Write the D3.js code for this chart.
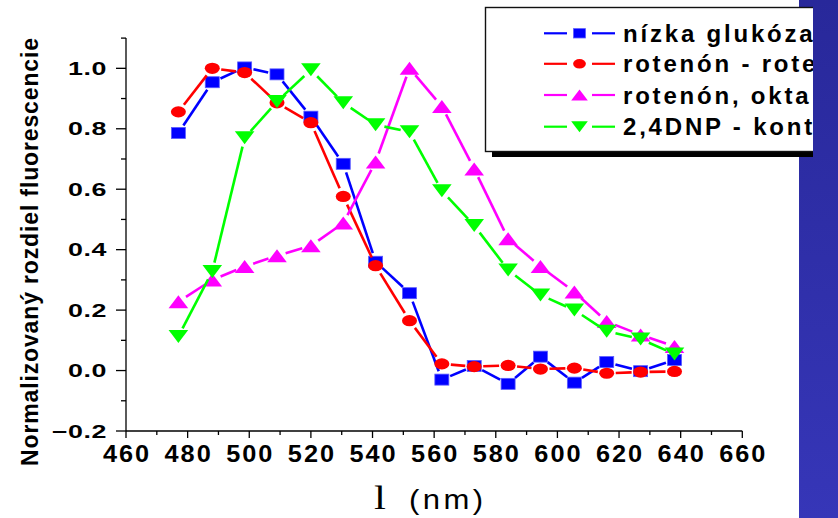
<!DOCTYPE html>
<html>
<head>
<meta charset="utf-8">
<script src="https://cdn.jsdelivr.net/npm/d3@7"></script>
<style>
  body { margin: 0; background: #fff; }
  svg { display: block; }
</style>
</head>
<body>
<div id="chart-area"></div>
<script>
// wavelengths (nm)
const wavelengths = [477, 488, 498.5, 509, 520, 530.5, 541, 552, 562.5, 573, 584, 594.5, 605.5, 616, 627, 638];

// normalized fluorescence difference per series
const nizkaGlukoza = [0.786, 0.954, 1.003, 0.98, 0.84, 0.684, 0.36, 0.256, -0.03, 0.015, -0.044, 0.046, -0.04, 0.028, -0.002, 0.035];
const rotenonRote = [0.856, 1.0, 0.986, 0.886, 0.82, 0.576, 0.347, 0.165, 0.022, 0.013, 0.017, 0.005, 0.008, -0.009, -0.005, -0.003];
const rotenonOkta = [0.228, 0.30, 0.344, 0.38, 0.413, 0.488, 0.69, 1.0, 0.874, 0.667, 0.436, 0.344, 0.26, 0.162, 0.118, 0.08];
const dnpKont = [0.113, 0.328, 0.77, 0.89, 0.995, 0.886, 0.813, 0.79, 0.595, 0.48, 0.333, 0.25, 0.2, 0.13, 0.104, 0.055];

const seriesNames = ["nízka glukóza", "rotenón - rote", "rotenón, okta", "2,4DNP - kont"];
const xTicks = [460, 480, 500, 520, 540, 560, 580, 600, 620, 640, 660];
const yTicks = [-0.2, 0.0, 0.2, 0.4, 0.6, 0.8, 1.0];

const series = [
    {name: seriesNames[0], values: nizkaGlukoza, color: "#0000ff", shape: "square"},
    {name: seriesNames[1], values: rotenonRote, color: "#ff0000", shape: "circle"},
    {name: seriesNames[2], values: rotenonOkta, color: "#ff00ff", shape: "up"},
    {name: seriesNames[3], values: dnpKont, color: "#00ff00", shape: "down"}
];

const width = 838;
const height = 518;

const svg = d3.select("#chart-area")
    .append("svg")
    .attr("width", width)
    .attr("height", height)
    .style("font-family", "'Liberation Sans', Arial, sans-serif");

const x = d3.scaleLinear().domain([460, 660]).range([126, 742.3]);
const y = d3.scaleLinear().domain([-0.2, 1.1]).range([431, 38.1]);

// blue strip on the right
const grad = svg.append("defs").append("linearGradient")
    .attr("id", "strip").attr("x1", 0).attr("y1", 0).attr("x2", 0).attr("y2", 1);
grad.append("stop").attr("offset", "0%").attr("stop-color", "#28289a");
grad.append("stop").attr("offset", "100%").attr("stop-color", "#3636b8");
svg.append("rect")
    .attr("x", 799).attr("y", 0).attr("width", 39).attr("height", height)
    .attr("fill", "url(#strip)");

// axes
const yAxis = svg.append("g").attr("transform", "translate(" + x(460) + ",0)");
yAxis.append("line").attr("y1", y(1.1)).attr("y2", y(-0.2)).attr("stroke", "#000").attr("stroke-width", 1.3);
yAxis.selectAll(".ymajor").data(yTicks).enter().append("line")
    .attr("x1", -10).attr("x2", 0)
    .attr("y1", d => y(d)).attr("y2", d => y(d))
    .attr("stroke", "#000").attr("stroke-width", 1.3);
yAxis.selectAll(".yminor").data(d3.range(-1, 12, 2).map(d => d / 10)).enter().append("line")
    .attr("x1", -5).attr("x2", 0)
    .attr("y1", d => y(d)).attr("y2", d => y(d))
    .attr("stroke", "#000").attr("stroke-width", 1.3);
// tick labels are stretched sideways in the original
svg.selectAll(".ylabel").data(yTicks).enter().append("text")
    .attr("transform", d => "translate(107," + (y(d) + 6.7) + ") scale(1.45,1)")
    .attr("text-anchor", "end")
    .style("font-size", "18.5px")
    .style("font-weight", "bold")
    .style("letter-spacing", "0.4px")
    .text(d => d3.format(".1f")(d));

const xAxis = svg.append("g").attr("transform", "translate(0," + y(-0.2) + ")");
xAxis.append("line").attr("x1", x(460)).attr("x2", x(660)).attr("stroke", "#000").attr("stroke-width", 1.3);
xAxis.selectAll(".xmajor").data(xTicks).enter().append("line")
    .attr("x1", d => x(d)).attr("x2", d => x(d))
    .attr("y1", 0).attr("y2", 7)
    .attr("stroke", "#000").attr("stroke-width", 1.3);
xAxis.selectAll(".xminor").data(d3.range(470, 660, 20)).enter().append("line")
    .attr("x1", d => x(d)).attr("x2", d => x(d))
    .attr("y1", 0).attr("y2", 4)
    .attr("stroke", "#000").attr("stroke-width", 1.3);
svg.selectAll(".xlabel").data(xTicks).enter().append("text")
    .attr("transform", d => "translate(" + (x(d) + 1) + ",461.7) scale(1.1,1)")
    .attr("text-anchor", "middle")
    .style("font-size", "23px")
    .style("font-weight", "bold")
    .style("letter-spacing", "1.8px")
    .text(d => d);

// axis titles
svg.append("text")
    .attr("transform", "translate(37.5,252) rotate(-90)")
    .attr("text-anchor", "middle")
    .attr("textLength", 428)
    .attr("lengthAdjust", "spacing")
    .style("font-size", "23px")
    .style("font-weight", "bold")
    .text("Normalizovaný rozdiel fluorescencie");

svg.append("text")
    .attr("transform", "translate(374,509) scale(1.3,1)")
    .style("font-family", "'Liberation Serif', 'Times New Roman', serif")
    .style("font-size", "33px")
    .text("l");
svg.append("text")
    .attr("transform", "translate(409,509) scale(1.15,1)")
    .style("font-size", "27px")
    .style("letter-spacing", "3px")
    .text("(nm)");

// marker shapes
function marker(sel, shape, color, s) {
    if (shape === "square") {
        sel.append("rect")
            .attr("x", -7 * s).attr("y", -5.5 * s).attr("width", 14 * s).attr("height", 11 * s)
            .attr("fill", color).attr("stroke", "#5a5aff").attr("stroke-width", 0.8);
    } else if (shape === "circle") {
        sel.append("ellipse")
            .attr("rx", 7.5 * s).attr("ry", 5.6 * s)
            .attr("fill", color);
    } else if (shape === "up") {
        sel.append("path")
            .attr("d", "M0," + (-6.5 * s) + "L" + (9.8 * s) + "," + (6.5 * s) + "L" + (-9.8 * s) + "," + (6.5 * s) + "Z")
            .attr("fill", color);
    } else {
        sel.append("path")
            .attr("d", "M0," + (6.5 * s) + "L" + (9.8 * s) + "," + (-6.5 * s) + "L" + (-9.8 * s) + "," + (-6.5 * s) + "Z")
            .attr("fill", color);
    }
}

// lines with gaps around the markers, then markers
const gap = 9;
series.forEach(sr => {
    const g = svg.append("g");
    const pts = wavelengths.map((w, i) => [x(w), y(sr.values[i])]);
    const segs = d3.pairs(pts).map(([a, b]) => {
        const dx = b[0] - a[0], dy = b[1] - a[1];
        const len = Math.hypot(dx, dy);
        const ux = dx / len, uy = dy / len;
        return [a[0] + ux * gap, a[1] + uy * gap, b[0] - ux * gap, b[1] - uy * gap, len];
    }).filter(d => d[4] > 2 * gap);
    g.selectAll("line").data(segs).enter().append("line")
        .attr("x1", d => d[0]).attr("y1", d => d[1])
        .attr("x2", d => d[2]).attr("y2", d => d[3])
        .attr("stroke", sr.color)
        .attr("stroke-width", 2.6);
    pts.forEach(p => {
        marker(g.append("g").attr("transform", "translate(" + p[0] + "," + p[1] + ")"), sr.shape, sr.color, 1);
    });
});

// legend (cut off by the blue strip)
svg.select("defs").append("clipPath").attr("id", "legclip")
    .append("rect").attr("x", 0).attr("y", 0).attr("width", 813).attr("height", height);
const legend = svg.append("g").attr("clip-path", "url(#legclip)");
legend.append("rect")
    .attr("x", 492).attr("y", 151).attr("width", 330).attr("height", 6)
    .attr("fill", "#000");
legend.append("rect")
    .attr("x", 485.5).attr("y", 7.5).attr("width", 340).attr("height", 144)
    .attr("fill", "#fff").attr("stroke", "#111").attr("stroke-width", 1.4);

const rowY = [33.3, 63.8, 95, 126.7];
series.forEach((sr, i) => {
    const row = legend.append("g").attr("transform", "translate(0," + rowY[i] + ")");
    row.append("line").attr("x1", 544).attr("x2", 567).attr("stroke", sr.color).attr("stroke-width", 2.2);
    row.append("line").attr("x1", 592).attr("x2", 615).attr("stroke", sr.color).attr("stroke-width", 2.2);
    marker(row.append("g").attr("transform", "translate(579.5,0)"), sr.shape, sr.color, 0.85);
    row.append("text")
        .attr("x", 623).attr("y", 8.5)
        .style("font-size", "24px")
        .style("font-weight", "bold")
        .style("letter-spacing", "2.8px")
        .text(sr.name);
});
</script>
</body>
</html>
